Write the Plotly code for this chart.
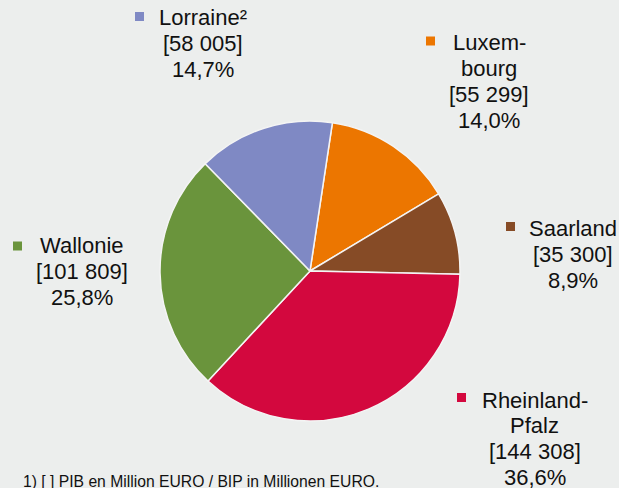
import plotly.graph_objects as go

# GDP by region of the Greater Region (million EUR)
regions = ["Luxembourg", "Saarland", "Rheinland-Pfalz", "Wallonie", "Lorraine"]
display_names = [["Luxem-", "bourg"], ["Saarland"], ["Rheinland-", "Pfalz"], ["Wallonie"], ["Lorraine²"]]
gdp = [55299, 35300, 144308, 101809, 58005]
colors = ["#ec7600", "#864b26", "#d3083e", "#6a943c", "#7f89c4"]
footnote = "1) [ ] PIB en Million EURO / BIP in Millionen EURO."

W, H = 619, 488
BG = "#eceeed"
FONT = "Liberation Sans, Arial, sans-serif"

# label placement in pixels: text centre x, first line centre y, marker centre (x, y)
label_pos = {
    "Luxembourg": (489.5, 42.5, 430.5, 41.0),
    "Saarland": (573.0, 228.5, 510.5, 226.5),
    "Rheinland-Pfalz": (534.5, 400.0, 461.5, 397.5),
    "Wallonie": (81.5, 245.5, 17.5, 246.0),
    "Lorraine": (202.5, 17.5, 139.5, 16.5),
}
LINE = 25.9
SQ = 9


def px(x):
    return x / W


def py(y):
    return 1 - y / H


def fmt_int(v):
    return f"{v:,}".replace(",", " ")


def fmt_pct(p):
    return f"{p:.1f}".replace(".", ",") + "%"


total = sum(gdp)

fig = go.Figure(
    go.Pie(
        labels=regions,
        values=gdp,
        sort=False,
        direction="clockwise",
        rotation=8.6,
        marker=dict(colors=colors, line=dict(color="#f4f4f4", width=1.5)),
        textinfo="none",
        hoverinfo="label+value+percent",
        showlegend=False,
        domain=dict(x=[px(160), px(460)], y=[py(421), py(121)]),
    )
)

annotations = []
shapes = []
for name, lines, val, col in zip(regions, display_names, gdp, colors):
    cx, y0, sx, sy = label_pos[name]
    text_lines = lines + [f"[{fmt_int(val)}]", fmt_pct(100 * val / total)]
    for i, t in enumerate(text_lines):
        annotations.append(dict(
            x=px(cx), y=py(y0 + i * LINE), xref="paper", yref="paper",
            text=t, showarrow=False, xanchor="center", yanchor="middle",
            font=dict(family=FONT, size=22, color="#111111"),
        ))
    shapes.append(dict(
        type="rect", xref="paper", yref="paper",
        x0=px(sx - SQ / 2), x1=px(sx + SQ / 2),
        y0=py(sy + SQ / 2), y1=py(sy - SQ / 2),
        fillcolor=col, line=dict(width=0),
    ))

annotations.append(dict(
    x=px(21), y=py(481.5), xref="paper", yref="paper",
    text=footnote, showarrow=False, xanchor="left", yanchor="middle",
    font=dict(family=FONT, size=15.7, color="#111111"),
))

fig.update_layout(
    width=W, height=H,
    margin=dict(l=0, r=0, t=0, b=0),
    paper_bgcolor=BG, plot_bgcolor=BG,
    annotations=annotations, shapes=shapes,
)

fig.write_html("out.html")
